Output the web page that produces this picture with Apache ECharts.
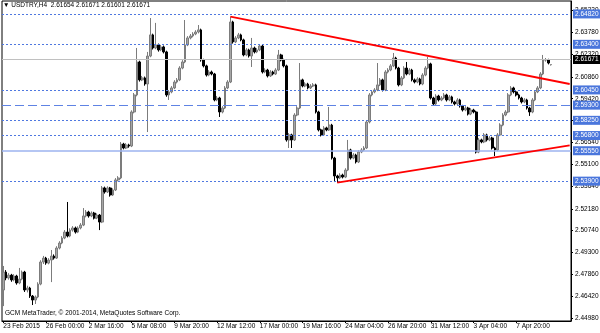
<!DOCTYPE html>
<html><head><meta charset="utf-8">
<script src="https://cdn.jsdelivr.net/npm/echarts@6/dist/echarts.min.js"></script>
<style>html,body{margin:0;padding:0;background:#fff}#c{width:600px;height:333px}</style>
</head><body><div id="c"></div>
<script>
// ---- data ----
const symbolTitle = '\u25BC USDTRY,H4  2.61654 2.61671 2.61601 2.61671';
const copyrightText = 'GCM MetaTrader, \u00A9 2001-2014, MetaQuotes Software Corp.';
const xTickLabels = ['23 Feb 2015','26 Feb 00:00','2 Mar 16:00','5 Mar 08:00','9 Mar 20:00','12 Mar 12:00','17 Mar 00:00','19 Mar 16:00','24 Mar 04:00','26 Mar 20:00','31 Mar 12:00','3 Apr 04:00','7 Apr 20:00'];
const xTickEvery = 16;      // one time label every 16 H4 bars
const slotCount = 213;      // bars + right-hand chart shift
const yTickLabels = ['2.44980','2.46420','2.47860','2.49300','2.50740','2.52180','2.53640','2.55100','2.56540','2.57980','2.59420','2.60860','2.62320','2.63780','2.65220'];
const levelPrices = [2.64820, 2.63400, 2.62450, 2.60450, 2.59300, 2.58250, 2.56800, 2.55550, 2.53900];
const currentPrice = 2.61671;
const trendUpper = [[85, 2.6482], [212, 2.6039]];
const trendLower = [[125, 2.5390], [212, 2.5635]];

const opens = [2.4684,2.4802,2.4763,2.4782,2.4750,2.4776,2.4730,2.4756,2.4802,2.4684,
2.4697,2.4644,2.4618,2.4638,2.4723,2.4868,2.4894,2.4861,2.4881,2.4907,
2.4894,2.4960,2.4993,2.5026,2.5065,2.5039,2.5078,2.5092,2.5065,2.5092,
2.5111,2.5171,2.5197,2.5171,2.5190,2.5157,2.5177,2.5131,2.5355,2.5329,
2.5355,2.5309,2.5342,2.5408,2.5421,2.5644,2.5618,2.5638,2.5631,2.5855,
2.5967,2.6184,2.6066,2.6079,2.6039,2.6223,2.6362,2.6276,2.6296,2.6263,
2.6283,2.6250,2.5967,2.5987,2.6013,2.6052,2.6066,2.6144,2.6184,2.6296,
2.6342,2.6355,2.6368,2.6381,2.6395,2.6197,2.6158,2.6098,2.6118,2.6105,
2.5934,2.5947,2.5855,2.5881,2.6013,2.6052,2.6447,2.6316,2.6342,2.6362,
2.6329,2.6230,2.6263,2.6223,2.6276,2.6250,2.6263,2.6289,2.6118,2.6131,
2.6092,2.6118,2.6105,2.6131,2.6230,2.6197,2.6158,2.5671,2.5704,2.5671,
2.5835,2.5881,2.6066,2.6026,2.6039,2.6013,2.6026,2.6033,2.5855,2.5737,
2.5704,2.5750,2.5737,2.5769,2.5552,2.5434,2.5421,2.5440,2.5427,2.5473,
2.5605,2.5552,2.5572,2.5526,2.5592,2.5605,2.5618,2.5789,2.5967,2.5987,
2.6000,2.6033,2.6066,2.6000,2.6118,2.6131,2.6158,2.6210,2.6144,2.6033,
2.6079,2.6144,2.6105,2.6131,2.6066,2.6052,2.6072,2.6039,2.6098,2.6144,
2.6171,2.5947,2.5908,2.5960,2.5934,2.5947,2.5967,2.5934,2.5954,2.5921,
2.5908,2.5934,2.5894,2.5868,2.5881,2.5842,2.5868,2.5855,2.5592,2.5671,
2.5658,2.5704,2.5671,2.5684,2.5618,2.5605,2.5704,2.5769,2.5835,2.5855,
2.5967,2.6013,2.5987,2.5967,2.5947,2.5921,2.5934,2.5881,2.5855,2.5934,
2.5987,2.6013,2.6105,2.6197,2.6197,2.61654];

const closes = [2.4802,2.4763,2.4782,2.4750,2.4776,2.4730,2.4756,2.4802,2.4684,2.4697,
2.4644,2.4618,2.4638,2.4723,2.4868,2.4894,2.4861,2.4881,2.4907,2.4894,
2.4960,2.4993,2.5026,2.5065,2.5039,2.5078,2.5092,2.5065,2.5092,2.5111,
2.5171,2.5197,2.5171,2.5190,2.5157,2.5177,2.5131,2.5355,2.5329,2.5355,
2.5309,2.5342,2.5408,2.5421,2.5644,2.5618,2.5638,2.5631,2.5855,2.5967,
2.6184,2.6066,2.6079,2.6039,2.6223,2.6362,2.6276,2.6296,2.6263,2.6283,
2.6250,2.5967,2.5987,2.6013,2.6052,2.6066,2.6144,2.6184,2.6296,2.6342,
2.6355,2.6368,2.6381,2.6395,2.6197,2.6158,2.6098,2.6118,2.6105,2.5934,
2.5947,2.5855,2.5881,2.6013,2.6052,2.6447,2.6316,2.6342,2.6362,2.6329,
2.6230,2.6263,2.6223,2.6276,2.6250,2.6263,2.6289,2.6118,2.6131,2.6092,
2.6118,2.6105,2.6131,2.6230,2.6197,2.6158,2.5671,2.5704,2.5671,2.5835,
2.5881,2.6066,2.6026,2.6039,2.6013,2.6026,2.6033,2.5855,2.5737,2.5704,
2.5750,2.5737,2.5769,2.5552,2.5434,2.5421,2.5440,2.5427,2.5473,2.5605,
2.5552,2.5572,2.5526,2.5592,2.5605,2.5618,2.5789,2.5967,2.5987,2.6000,
2.6033,2.6066,2.6000,2.6118,2.6131,2.6158,2.6210,2.6144,2.6033,2.6079,
2.6144,2.6105,2.6131,2.6066,2.6052,2.6072,2.6039,2.6098,2.6144,2.6171,
2.5947,2.5908,2.5960,2.5934,2.5947,2.5967,2.5934,2.5954,2.5921,2.5908,
2.5934,2.5894,2.5868,2.5881,2.5842,2.5868,2.5855,2.5592,2.5671,2.5658,
2.5704,2.5671,2.5684,2.5618,2.5605,2.5704,2.5769,2.5835,2.5855,2.5967,
2.6013,2.5987,2.5967,2.5947,2.5921,2.5934,2.5881,2.5855,2.5934,2.5987,
2.6013,2.6105,2.6197,2.6197,2.6177,2.61671];

const lows = [2.4578,2.4748,2.4752,2.4738,2.4741,2.4719,2.4722,2.4748,2.4671,2.4668,
2.4632,2.4585,2.4592,2.4630,2.4715,2.4855,2.4850,2.4853,2.4736,2.4884,
2.4888,2.4951,2.4985,2.5018,2.5030,2.5031,2.5068,2.5055,2.5058,2.5083,
2.5104,2.5162,2.5160,2.5163,2.5148,2.5150,2.5078,2.5124,2.5318,2.5322,
2.5298,2.5302,2.5335,2.5399,2.5413,2.5609,2.5611,2.5620,2.5624,2.5846,
2.5958,2.6055,2.6058,2.6028,2.5723,2.6215,2.6266,2.6268,2.6252,2.6255,
2.6240,2.5955,2.5934,2.5978,2.6005,2.6043,2.6058,2.6136,2.6176,2.6288,
2.6333,2.6346,2.6360,2.6372,2.6186,2.6148,2.6088,2.6090,2.6096,2.5925,
2.5926,2.5822,2.5846,2.5874,2.6005,2.6045,2.6305,2.6308,2.6334,2.6320,
2.6221,2.6222,2.6213,2.6151,2.6240,2.6242,2.6255,2.6108,2.6110,2.6082,
2.6085,2.6096,2.6098,2.6124,2.6188,2.6148,2.5660,2.5618,2.5618,2.5664,
2.5827,2.5874,2.6017,2.6018,2.6004,2.6006,2.6019,2.5845,2.5727,2.5694,
2.5697,2.5728,2.5730,2.5542,2.5394,2.5390,2.5413,2.5418,2.5420,2.5466,
2.5542,2.5544,2.5516,2.5519,2.5584,2.5597,2.5611,2.5780,2.5958,2.5978,
2.5992,2.6025,2.5990,2.5992,2.6109,2.6123,2.6150,2.6135,2.6023,2.6025,
2.6071,2.6096,2.6097,2.6056,2.6043,2.6044,2.6030,2.6031,2.6090,2.6136,
2.5937,2.5898,2.5900,2.5924,2.5926,2.5939,2.5924,2.5926,2.5911,2.5898,
2.5900,2.5884,2.5858,2.5860,2.5832,2.5834,2.5846,2.5582,2.5584,2.5649,
2.5650,2.5661,2.5663,2.5608,2.5565,2.5597,2.5696,2.5761,2.5827,2.5847,
2.5959,2.5977,2.5957,2.5937,2.5911,2.5913,2.5871,2.5829,2.5847,2.5926,
2.5979,2.6005,2.6097,2.6186,2.6168,2.61601];

const highs = [2.4842,2.4815,2.4795,2.4790,2.4788,2.4784,2.4829,2.4812,2.4810,2.4712,
2.4705,2.4651,2.4648,2.4735,2.4880,2.4908,2.4902,2.4893,2.4947,2.4918,
2.4972,2.5005,2.5038,2.5078,2.5263,2.5090,2.5104,2.5101,2.5103,2.5124,
2.5223,2.5210,2.5205,2.5201,2.5198,2.5188,2.5184,2.5368,2.5364,2.5366,
2.5362,2.5353,2.5420,2.5433,2.5657,2.5652,2.5650,2.5646,2.5866,2.5980,
2.6276,2.6192,2.6092,2.6088,2.6250,2.6473,2.6370,2.6441,2.6305,2.6296,
2.6292,2.6258,2.5999,2.6025,2.6064,2.6078,2.6156,2.6196,2.6460,2.6354,
2.6368,2.6380,2.6393,2.6427,2.6403,2.6205,2.6166,2.6130,2.6127,2.6112,
2.5960,2.5955,2.5893,2.6025,2.6064,2.6482,2.6455,2.6354,2.6375,2.6370,
2.6337,2.6275,2.6271,2.6342,2.6285,2.6275,2.6301,2.6297,2.6143,2.6139,
2.6130,2.6126,2.6143,2.6263,2.6238,2.6205,2.6166,2.5716,2.5712,2.5847,
2.5893,2.6177,2.6074,2.6051,2.6047,2.6038,2.6045,2.6041,2.5863,2.5745,
2.5762,2.5758,2.5888,2.5777,2.5560,2.5442,2.5452,2.5449,2.5485,2.5671,
2.5613,2.5584,2.5580,2.5604,2.5617,2.5630,2.5801,2.5979,2.5999,2.6012,
2.6177,2.6078,2.6074,2.6130,2.6143,2.6170,2.6243,2.6218,2.6152,2.6091,
2.6156,2.6184,2.6143,2.6139,2.6075,2.6084,2.6080,2.6110,2.6156,2.6217,
2.6179,2.5955,2.5972,2.5968,2.5959,2.5979,2.5975,2.5966,2.5962,2.5929,
2.5946,2.5942,2.5902,2.5893,2.5889,2.5880,2.5876,2.5863,2.5683,2.5679,
2.5716,2.5712,2.5696,2.5692,2.5626,2.5716,2.5781,2.5847,2.5867,2.5979,
2.6025,2.6021,2.5995,2.5975,2.5955,2.5946,2.5942,2.5889,2.5946,2.5999,
2.6025,2.6117,2.6230,2.6210,2.6205,2.61671];

// ---- build ----
const FONT = '"Liberation Sans", Arial, sans-serif';
const categories = [];
for (let i = 0; i < slotCount; i++) categories.push('bar' + i);
const candles = opens.map((o, i) => [o, closes[i], lows[i], highs[i]]);

const dotted = {color: '#4f78e0', width: 1, type: [2, 2]};
const levelLineStyles = [dotted, dotted, dotted, dotted,
  {color: '#5f83e4', width: 1, type: [9, 4]},
  dotted, dotted,
  {color: '#9db3ef', width: 1.5, type: 'solid'},
  dotted];
const boxLabel = {show: true, position: 'end', distance: 2, color: '#fff',
  backgroundColor: '#4a76dc', padding: [1, 2, 1, 2], fontSize: 6.5, fontFamily: FONT,
  verticalAlign: 'middle'};

const markData = levelPrices.map((p, i) => ({
  yAxis: p, lineStyle: levelLineStyles[i],
  label: Object.assign({}, boxLabel, {formatter: p.toFixed(5)})
}));
markData.push({yAxis: currentPrice, lineStyle: {color: '#c0c0c0', width: 1, type: 'solid'},
  label: Object.assign({}, boxLabel, {backgroundColor: '#000', formatter: currentPrice.toFixed(5)})});
[trendUpper, trendLower].forEach(t => {
  markData.push([
    {coord: t[0], lineStyle: {color: '#ff0000', width: 1.8, type: 'solid'}, label: {show: false}},
    {coord: t[1]}
  ]);
});

const chart = echarts.init(document.getElementById('c'), null, {renderer: 'canvas'});
chart.setOption({
  animation: false,
  backgroundColor: '#fff',
  grid: {left: 2, right: 29, top: 1, bottom: 12, show: true, borderColor: '#000', borderWidth: 1, containLabel: false, outerBoundsMode: 'none'},
  xAxis: {
    type: 'category', data: categories, boundaryGap: true,
    axisLine: {show: true, lineStyle: {color: '#000', width: 1}},
    axisTick: {show: true, alignWithLabel: true, length: 2, interval: (i) => i % xTickEvery === 0 && i / xTickEvery < xTickLabels.length, lineStyle: {color: '#000'}},
    axisLabel: {interval: (i) => i % xTickEvery === 0 && i / xTickEvery < xTickLabels.length,
      formatter: (v, i) => xTickLabels[i / xTickEvery] || '', align: 'left', margin: 2,
      fontSize: 6.5, color: '#000', fontFamily: FONT},
    splitLine: {show: false}
  },
  yAxis: {
    type: 'value', position: 'right', min: 2.4480, max: 2.6585,
    axisLine: {show: true, lineStyle: {color: '#000', width: 1}},
    axisTick: {show: true, length: 2, customValues: yTickLabels.map(Number), lineStyle: {color: '#000'}},
    axisLabel: {customValues: yTickLabels.map(Number), formatter: (v) => {
        let best = yTickLabels[0], d = 1;
        yTickLabels.forEach(s => { const dd = Math.abs(Number(s) - v); if (dd < d) { d = dd; best = s; } });
        return best;
      }, margin: 4, fontSize: 6.5, color: '#000', fontFamily: FONT},
    splitLine: {show: false}
  },
  series: [{
    type: 'candlestick', data: candles, barWidth: 2.2, clip: false,
    itemStyle: {color: '#a6a6a6', color0: '#000', borderColor: '#7c7c7c', borderColor0: '#000', borderWidth: 1},
    markLine: {symbol: 'none', silent: true, animation: false, data: markData}
  }],
  graphic: [
    {type: 'text', left: 3, top: 2, style: {text: symbolTitle, fontSize: 6.5, fill: '#000', fontFamily: FONT}},
    {type: 'text', left: 5, top: 310, style: {text: copyrightText, fontSize: 6.5, fill: '#000', fontFamily: FONT}}
  ]
});
</script></body></html>
